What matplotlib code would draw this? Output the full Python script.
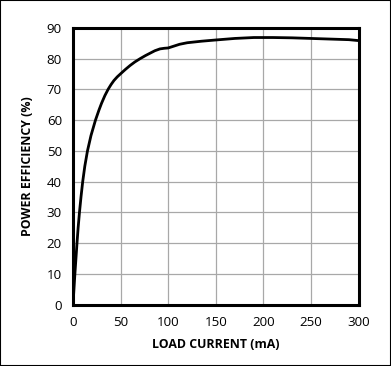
import matplotlib
matplotlib.use("Agg")
import matplotlib.pyplot as plt
from matplotlib.patches import Rectangle

load_ma = [0, 2, 4.2, 5.4, 6.8, 8.4, 10.2, 12.4, 15.2, 18.9, 23.6, 27.3, 30, 33.5, 37, 40, 43, 46.5, 50, 55, 60, 65, 70.4, 76, 81, 86, 91.4, 96, 100, 106, 112, 120, 135, 150, 170, 190, 210, 230, 250, 270, 290, 300]
eff = [0, 10, 20, 25, 30, 35, 40, 45, 50, 55, 60, 63.3, 65.5, 68.0, 70.1, 71.6, 72.9, 74.1, 75.1, 76.5, 77.8, 78.95, 80, 81, 81.8, 82.6, 83.2, 83.4, 83.5, 84.1, 84.7, 85.2, 85.7, 86.1, 86.6, 86.9, 86.9, 86.8, 86.6, 86.4, 86.2, 85.9]

xticks = [0, 50, 100, 150, 200, 250, 300]
yticks = [0, 10, 20, 30, 40, 50, 60, 70, 80, 90]

plt.rcParams['font.family'] = ['Open Sans', 'DejaVu Sans']

fig = plt.figure(figsize=(3.91, 3.66), dpi=100)
ax = fig.add_axes([73/391, 1 - 304.5/366, (358.5-73)/391, (304.5-28)/366])
ax.plot(load_ma, eff, color='black', lw=2.0, solid_capstyle='butt', solid_joinstyle='round')
ax.set_xlim(0, 300)
ax.set_ylim(0, 90)
ax.set_xticks(xticks)
ax.set_yticks(yticks)
ax.grid(True, color='#a8a8a8', lw=0.9)
ax.set_axisbelow(True)
for s in ax.spines.values():
    s.set_linewidth(2.2)
ax.tick_params(length=0, labelsize=9.6, pad=8)
ax.set_xlabel('LOAD CURRENT (mA)', fontsize=8.9, fontweight='bold', labelpad=7)
ax.set_ylabel('POWER EFFICIENCY (%)', fontsize=8.9, fontweight='bold', labelpad=9)

fig.patches.append(Rectangle((0, 0), 1, 1, transform=fig.transFigure, fill=False, edgecolor='black', lw=1.5))
fig.savefig('out.png', dpi=100)
